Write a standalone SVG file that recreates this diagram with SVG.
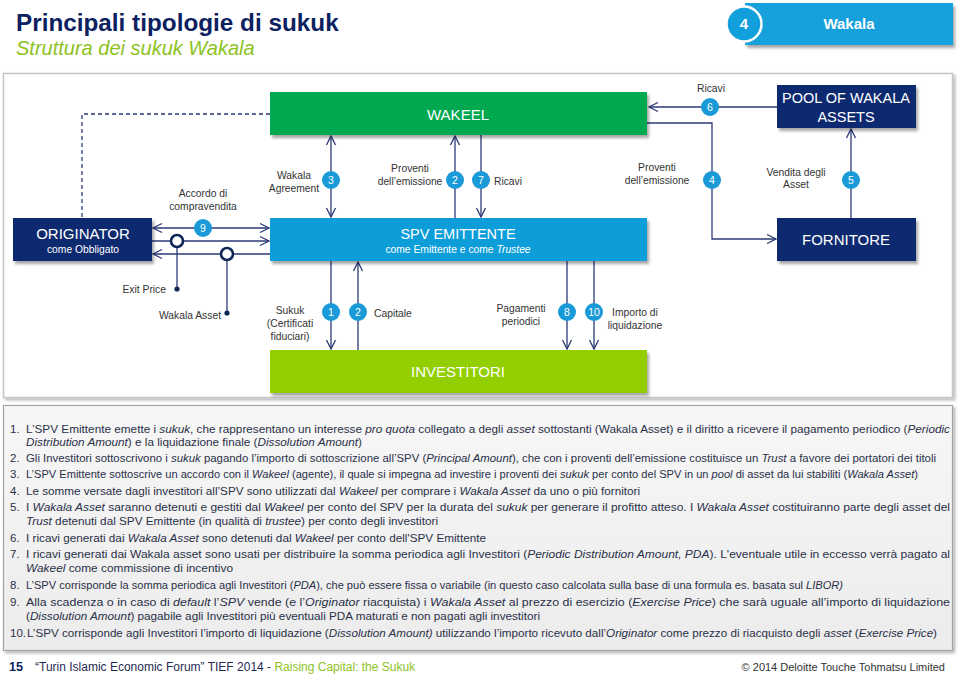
<svg xmlns="http://www.w3.org/2000/svg" width="960" height="674" viewBox="0 0 960 674">
<defs>
<style>
text{font-family:"Liberation Sans",Arial,sans-serif}
.bx{fill:#fff;text-anchor:middle}
.lbl{font-size:10.3px;fill:#333;}
.mid{text-anchor:middle}
.end{text-anchor:end}
.nc{fill:#1a9ad7}
.nt{fill:#fff;font-size:10.5px;text-anchor:middle}
.conn{stroke:#2b3a78;stroke-width:1.3;fill:none}
.ring{fill:#fff;stroke:#0f2557;stroke-width:2.6}
.dot{fill:#0f2557}
.pt{font-size:11.5px;fill:#2a3048}
.pc{font-size:11px;fill:#2a3048}
.pn{font-size:11.5px;fill:#2a3048}
.it{font-style:italic}
</style>
<marker id="arr" viewBox="0 0 10 10" refX="9.5" refY="5" markerWidth="10" markerHeight="10" markerUnits="userSpaceOnUse" orient="auto-start-reverse" overflow="visible">
<path d="M0.5,0.5 L9.5,5 L0.5,9.5" fill="none" stroke="#2b3a78" stroke-width="1.3"/>
</marker>
<filter id="sh" x="-5%" y="-10%" width="115%" height="140%">
<feDropShadow dx="2" dy="3" stdDeviation="1.8" flood-color="#000" flood-opacity="0.35"/>
</filter>
<filter id="psh" x="-2%" y="-2%" width="104%" height="108%">
<feDropShadow dx="2" dy="2" stdDeviation="1.5" flood-color="#000" flood-opacity="0.3"/>
</filter>
<linearGradient id="pg" x1="0" y1="0" x2="0" y2="1">
<stop offset="0" stop-color="#f7f7f7"/>
<stop offset="1" stop-color="#ececec"/>
</linearGradient>
</defs>

<!-- Title -->
<g id="title">
<text x="16" y="31" font-size="24.3" font-weight="bold" fill="#0c2160">Principali tipologie di sukuk</text>
<text x="16" y="55" font-size="20" font-style="italic" fill="#8dc21f">Struttura dei sukuk Wakala</text>
</g>

<!-- Tab -->
<g id="tab">
<rect x="745" y="3" width="208" height="42" fill="#12a0dc" filter="url(#sh)"/>
<circle cx="744" cy="24" r="17.5" fill="#12a0dc" stroke="#fff" stroke-width="2.5"/>
<text x="744" y="29" font-size="15" font-weight="bold" fill="#fff" text-anchor="middle">4</text>
<text x="849" y="29" font-size="15" font-weight="bold" fill="#fff" text-anchor="middle">Wakala</text>
</g>

<!-- Panels -->
<rect x="3.5" y="73.5" width="949" height="324" fill="#fff" stroke="#c4c4c4" stroke-width="1.5" filter="url(#psh)"/>
<rect x="3.5" y="405.5" width="949" height="245" fill="url(#pg)" stroke="#a3a3a3" stroke-width="1.2" filter="url(#psh)"/>

<!-- Connectors -->
<g id="connectors">
<path class="conn" d="M270,114 H82 V218" stroke-dasharray="4,3" stroke-width="1"/>
<path class="conn" d="M777,107 H649" marker-end="url(#arr)"/>
<path class="conn" d="M647,123 H712 V239 H776" marker-end="url(#arr)"/>
<path class="conn" d="M851,218 V129" marker-end="url(#arr)"/>
<path class="conn" d="M331,136 V217" marker-start="url(#arr)" marker-end="url(#arr)"/>
<path class="conn" d="M455,218 V136" marker-end="url(#arr)"/>
<path class="conn" d="M481,135 V217" marker-end="url(#arr)"/>
<path class="conn" d="M153,228 H269" marker-start="url(#arr)" marker-end="url(#arr)"/>
<path class="conn" d="M152,241 H269" marker-end="url(#arr)"/>
<path class="conn" d="M270,254 H153" marker-end="url(#arr)"/>
<path class="conn" d="M177,247 V289"/>
<path class="conn" d="M227,260 V313"/>
<path class="conn" d="M331,261 V349" marker-end="url(#arr)"/>
<path class="conn" d="M358,350 V262" marker-end="url(#arr)"/>
<path class="conn" d="M567,261 V349" marker-end="url(#arr)"/>
<path class="conn" d="M594,261 V349" marker-end="url(#arr)"/>
<circle class="ring" cx="177" cy="241" r="6"/>
<circle class="ring" cx="227" cy="254" r="6"/>
<circle class="dot" cx="177" cy="289" r="2.6"/>
<circle class="dot" cx="227" cy="313" r="2.6"/>

<!-- number badges -->
<circle class="nc" cx="710" cy="107" r="9"/><text class="nt" x="710" y="111">6</text>
<circle class="nc" cx="712" cy="180" r="9"/><text class="nt" x="712" y="184">4</text>
<circle class="nc" cx="851" cy="180" r="9"/><text class="nt" x="851" y="184">5</text>
<circle class="nc" cx="331" cy="180" r="9"/><text class="nt" x="331" y="184">3</text>
<circle class="nc" cx="455" cy="180" r="9"/><text class="nt" x="455" y="184">2</text>
<circle class="nc" cx="481" cy="180" r="9"/><text class="nt" x="481" y="184">7</text>
<circle class="nc" cx="203" cy="228" r="9"/><text class="nt" x="203" y="232">9</text>
<circle class="nc" cx="331" cy="312" r="9"/><text class="nt" x="331" y="316">1</text>
<circle class="nc" cx="358" cy="312" r="9"/><text class="nt" x="358" y="316">2</text>
<circle class="nc" cx="567" cy="312" r="9"/><text class="nt" x="567" y="316">8</text>
<circle class="nc" cx="594" cy="312" r="9"/><text class="nt" x="594" y="316">10</text>

<!-- labels -->
<text class="lbl mid" x="711" y="92">Ricavi</text>
<text class="lbl mid" x="657" y="171">Proventi</text>
<text class="lbl mid" x="657" y="184">dell’emissione</text>
<text class="lbl mid" x="796" y="176">Vendita degli</text>
<text class="lbl mid" x="796" y="188">Asset</text>
<text class="lbl mid" x="294" y="179">Wakala</text>
<text class="lbl mid" x="294" y="192">Agreement</text>
<text class="lbl mid" x="410" y="172">Proventi</text>
<text class="lbl mid" x="410" y="185">dell’emissione</text>
<text class="lbl" x="494" y="185">Ricavi</text>
<text class="lbl mid" x="203" y="197">Accordo di</text>
<text class="lbl mid" x="203" y="210">compravendita</text>
<text class="lbl end" x="166" y="293">Exit Price</text>
<text class="lbl end" x="221" y="319">Wakala Asset</text>
<text class="lbl mid" x="290" y="314">Sukuk</text>
<text class="lbl mid" x="290" y="327">(Certificati</text>
<text class="lbl mid" x="290" y="340">fiduciari)</text>
<text class="lbl" x="374" y="317">Capitale</text>
<text class="lbl mid" x="521" y="312">Pagamenti</text>
<text class="lbl mid" x="521" y="325">periodici</text>
<text class="lbl mid" x="635" y="316">Importo di</text>
<text class="lbl mid" x="635" y="329">liquidazione</text>
</g>

<!-- Nodes -->
<g id="wakeel">
<rect x="270" y="92" width="377" height="43" fill="#00a94f" filter="url(#sh)"/>
<text class="bx" x="458" y="120" font-size="15">WAKEEL</text>
</g>
<g id="pool">
<rect x="777" y="85" width="139" height="43" fill="#0b2c70" filter="url(#sh)"/>
<text class="bx" x="846" y="103" font-size="14.5">POOL OF WAKALA</text>
<text class="bx" x="846" y="122" font-size="14.5">ASSETS</text>
</g>
<g id="originator">
<rect x="13" y="218" width="139" height="43" fill="#0b2c70" filter="url(#sh)"/>
<text class="bx" x="83" y="239" font-size="15">ORIGINATOR</text>
<text class="bx" x="83" y="253" font-size="10.3">come Obbligato</text>
</g>
<g id="spv">
<rect x="270" y="218" width="377" height="43" fill="#0d9dd9" filter="url(#sh)"/>
<text class="bx" x="458" y="239" font-size="14.5">SPV EMITTENTE</text>
<text class="bx" x="458" y="253" font-size="10.3">come Emittente e come <tspan font-style="italic">Trustee</tspan></text>
</g>
<g id="fornitore">
<rect x="777" y="218" width="139" height="43" fill="#0b2c70" filter="url(#sh)"/>
<text class="bx" x="846" y="245" font-size="15">FORNITORE</text>
</g>
<g id="investitori">
<rect x="270" y="350" width="377" height="43" fill="#93cf00" filter="url(#sh)"/>
<text class="bx" x="458" y="377" font-size="15">INVESTITORI</text>
</g>

<!-- Notes -->
<g id="notes">
<text class="pn" x="10" y="433">1.</text>
<text class="pt" x="26" y="433" textLength="924" lengthAdjust="spacingAndGlyphs">L’SPV Emittente emette i <tspan class="it">sukuk</tspan>, che rappresentano un interesse <tspan class="it">pro quota</tspan> collegato a degli <tspan class="it">asset</tspan> sottostanti (Wakala Asset) e il diritto a ricevere il pagamento periodico (<tspan class="it">Periodic</tspan></text>
<text class="pt" x="26" y="446" textLength="336" lengthAdjust="spacingAndGlyphs"><tspan class="it">Distribution Amount</tspan>) e la liquidazione finale (<tspan class="it">Dissolution Amount</tspan>)</text>
<text class="pn" x="10" y="462">2.</text>
<text class="pc" x="26" y="462" textLength="910" lengthAdjust="spacingAndGlyphs">Gli Investitori sottoscrivono i <tspan class="it">sukuk</tspan>  pagando l’importo di sottoscrizione all’SPV (<tspan class="it">Principal Amount</tspan>), che con i proventi dell’emissione costituisce un <tspan class="it">Trust</tspan> a favore dei portatori dei titoli</text>
<text class="pn" x="10" y="478">3.</text>
<text class="pc" x="26" y="478" textLength="892" lengthAdjust="spacingAndGlyphs">L’SPV Emittente sottoscrive un accordo con il <tspan class="it">Wakeel</tspan> (agente), il quale si impegna ad investire i proventi dei <tspan class="it">sukuk</tspan> per conto del SPV in un <tspan class="it">pool</tspan> di asset da lui stabiliti (<tspan class="it">Wakala Asset</tspan>)</text>
<text class="pn" x="10" y="495">4.</text>
<text class="pc" x="26" y="495" textLength="614" lengthAdjust="spacingAndGlyphs">Le somme versate dagli investitori all’SPV sono utilizzati dal <tspan class="it">Wakeel</tspan> per comprare i <tspan class="it">Wakala Asset</tspan> da uno o più fornitori</text>
<text class="pn" x="10" y="511">5.</text>
<text class="pt" x="26" y="511" textLength="924" lengthAdjust="spacingAndGlyphs">I <tspan class="it">Wakala Asset</tspan> saranno detenuti e gestiti dal <tspan class="it">Wakeel</tspan> per conto del SPV per la durata del <tspan class="it">sukuk</tspan> per generare il profitto atteso. I <tspan class="it">Wakala Asset</tspan> costituiranno parte degli asset del</text>
<text class="pt" x="26" y="525" textLength="412" lengthAdjust="spacingAndGlyphs"><tspan class="it">Trust</tspan> detenuti dal SPV Emittente (in qualità di <tspan class="it">trustee</tspan>) per conto degli investitori</text>
<text class="pn" x="10" y="542">6.</text>
<text class="pc" x="26" y="542" textLength="460" lengthAdjust="spacingAndGlyphs">I ricavi generati dai <tspan class="it">Wakala Asset</tspan> sono detenuti dal <tspan class="it">Wakeel</tspan> per conto dell'SPV Emittente</text>
<text class="pn" x="10" y="558">7.</text>
<text class="pt" x="26" y="558" textLength="924" lengthAdjust="spacingAndGlyphs">I ricavi generati dai Wakala asset sono usati per distribuire la somma periodica agli Investitori (<tspan class="it">Periodic Distribution Amount, PDA</tspan>). L'eventuale utile in eccesso verrà pagato al</text>
<text class="pt" x="26" y="572" textLength="207" lengthAdjust="spacingAndGlyphs"><tspan class="it">Wakeel</tspan> come commissione di incentivo</text>
<text class="pn" x="10" y="589">8.</text>
<text class="pc" x="26" y="589" textLength="817" lengthAdjust="spacingAndGlyphs">L’SPV corrisponde la somma periodica agli Investitori (<tspan class="it">PDA</tspan>), che può essere fissa o variabile (in questo caso calcolata sulla base di una formula es. basata sul <tspan class="it">LIBOR)</tspan></text>
<text class="pn" x="10" y="606">9.</text>
<text class="pt" x="26" y="606" textLength="924" lengthAdjust="spacingAndGlyphs">Alla scadenza o in caso di <tspan class="it">default</tspan> l’<tspan class="it">SPV</tspan> vende (e l’<tspan class="it">Originator</tspan> riacquista) i <tspan class="it">Wakala Asset</tspan> al prezzo di esercizio (<tspan class="it">Exercise Price</tspan>) che sarà uguale all’importo di liquidazione</text>
<text class="pt" x="26" y="620" textLength="514" lengthAdjust="spacingAndGlyphs">(<tspan class="it">Dissolution Amount</tspan>) pagabile agli Investitori più eventuali PDA maturati e non pagati agli investitori</text>
<text class="pn" x="10" y="637">10.</text>
<text class="pc" x="27" y="637" textLength="910" lengthAdjust="spacingAndGlyphs">L’SPV corrisponde agli Investitori l’importo di liquidazione (<tspan class="it">Dissolution Amount)</tspan> utilizzando l’importo ricevuto dall’<tspan class="it">Originator</tspan> come prezzo di riacquisto degli <tspan class="it">asset</tspan> (<tspan class="it">Exercise Price</tspan>)</text>
</g>

<!-- Footer -->
<g id="footer">
<text x="9" y="671" font-size="12.5" font-weight="bold" fill="#0c2160">15</text>
<text x="35" y="671" font-size="12" fill="#1f2a55">“Turin Islamic Economic Forum” TIEF 2014 -  <tspan fill="#8dc21f">Raising Capital: the Sukuk</tspan></text>
<text x="945" y="671" font-size="11" fill="#333" text-anchor="end">© 2014 Deloitte Touche Tohmatsu Limited</text>
</g>
</svg>
